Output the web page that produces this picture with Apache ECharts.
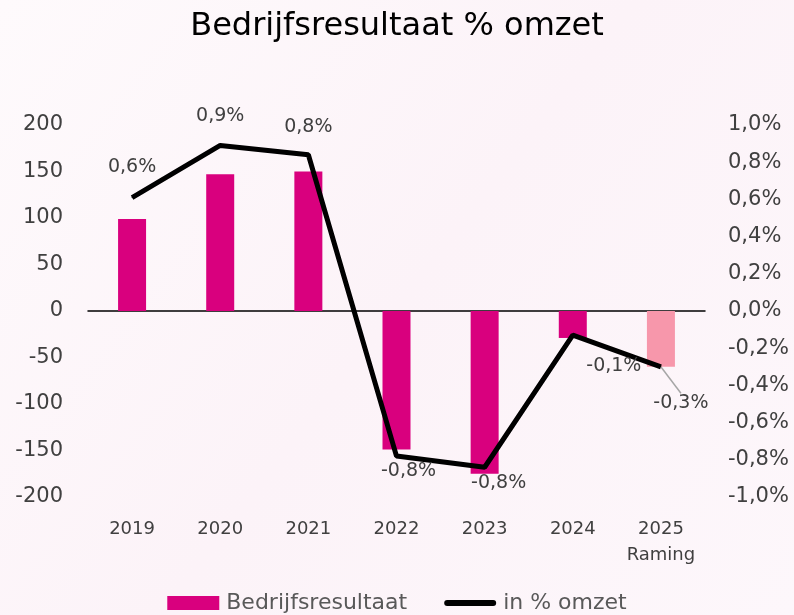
<!DOCTYPE html>
<html>
<head>
<meta charset="utf-8">
<script src="https://cdn.jsdelivr.net/npm/echarts@6/dist/echarts.min.js"></script>
<style>
  html, body { margin: 0; padding: 0; }
  #chart { width: 794px; height: 615px; }
</style>
</head>
<body>
<div id="chart"></div>
<script>
// data
var jaren = ['2019', '2020', '2021', '2022', '2023', '2024', '2025\nRaming'];
var bedrijfsresultaat = [99, 147, 150, -149, -175, -29, -60];
var pctOmzet = [0.61, 0.89, 0.84, -0.78, -0.84, -0.13, -0.30];
var linksTicks = [-200, 200, 50];
var rechtsTicks = [-1, 1, 0.2];

var font = 'DejaVu Sans';
var magenta = '#D9007E';
var lichtRoze = '#F797AB';

// label placement per point: side + shift (px) from the default spot
var labelPos = ['top', 'top', 'top', 'bottom', 'bottom', 'right', 'bottom'];
var labelShift = [[0, -15], [0, -14], [0, -13], [12, 0], [14, 1], [8, 31], [20, 21]];

var barData = bedrijfsresultaat.map(function (v, i) {
  return {
    value: v,
    itemStyle: { color: i === bedrijfsresultaat.length - 1 ? lichtRoze : magenta }
  };
});

var lineData = pctOmzet.map(function (v, i) {
  var item = {
    value: v,
    label: { show: true, position: labelPos[i] }
  };
  if (i === pctOmzet.length - 1) {
    item.labelLine = { show: true, lineStyle: { color: '#a6a6a6', width: 1.5 } };
  }
  return item;
});

var myChart = echarts.init(document.getElementById('chart'));
var option = {
  backgroundColor: {
    type: 'linear', x: 0, y: 0, x2: 1, y2: 1,
    colorStops: [
      { offset: 0, color: '#fefafc' },
      { offset: 0.5, color: '#fcf3f8' },
      { offset: 1, color: '#fdf7fb' }
    ]
  },
  textStyle: { fontFamily: font },
  title: {
    text: 'Bedrijfsresultaat % omzet',
    left: 'center',
    top: 6,
    textStyle: { fontFamily: font, fontSize: 32, fontWeight: 'normal', color: '#000' }
  },
  legend: {
    bottom: -4,
    left: 'center',
    itemGap: 37,
    itemWidth: 52,
    itemHeight: 14,
    textStyle: { fontFamily: font, fontSize: 22, color: '#595959', padding: [0, 0, 0, 2] },
    data: [
      { name: 'Bedrijfsresultaat', icon: 'rect' },
      { name: 'in % omzet', icon: 'path://M3,0 h46 a3,3 0 0 1 0,6 h-46 a3,3 0 0 1 0,-6 z', itemStyle: { color: '#000' } }
    ]
  },
  grid: { left: 88, right: 89, top: 125, bottom: 118 },
  xAxis: {
    type: 'category',
    data: jaren,
    axisLine: { onZero: true, lineStyle: { color: '#000', width: 1.5 } },
    axisTick: { show: false },
    axisLabel: {
      interval: 0,
      fontFamily: font,
      fontSize: 18,
      color: '#404040',
      lineHeight: 26,
      margin: 19
    }
  },
  yAxis: [
    {
      type: 'value',
      min: linksTicks[0], max: linksTicks[1], interval: linksTicks[2],
      splitLine: { show: false },
      axisLine: { show: false },
      axisTick: { show: false },
      axisLabel: { fontFamily: font, fontSize: 21, color: '#404040', margin: 25 }
    },
    {
      type: 'value',
      min: rechtsTicks[0], max: rechtsTicks[1], interval: rechtsTicks[2],
      splitLine: { show: false },
      axisLine: { show: false },
      axisTick: { show: false },
      axisLabel: {
        fontFamily: font, fontSize: 21, color: '#404040', margin: 23,
        formatter: function (v) { return v.toFixed(1).replace('.', ',') + '%'; }
      }
    }
  ],
  series: [
    {
      name: 'Bedrijfsresultaat',
      type: 'bar',
      barWidth: 28,
      itemStyle: { color: magenta },
      data: barData
    },
    {
      name: 'in % omzet',
      type: 'line',
      yAxisIndex: 1,
      symbol: 'circle',
      symbolSize: 1,
      lineStyle: { color: '#000', width: 5 },
      itemStyle: { color: '#000' },
      label: {
        fontFamily: font, fontSize: 19, color: '#404040',
        formatter: function (p) { return p.value.toFixed(1).replace('.', ',') + '%'; }
      },
      labelLayout: function (p) {
        var s = labelShift[p.dataIndex];
        return { dx: s[0], dy: s[1] };
      },
      data: lineData,
      z: 3
    }
  ]
};
myChart.setOption(option);
</script>
</body>
</html>
